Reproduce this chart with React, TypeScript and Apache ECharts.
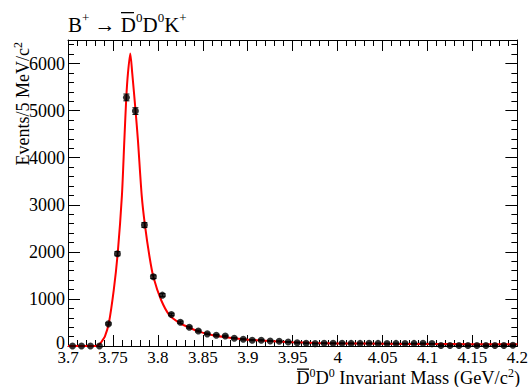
import React, { useEffect, useRef } from "react";
import * as echarts from "echarts";

// D0bar D0 invariant mass: bin centres (GeV/c^2) and event counts
const binCenters = [
  3.705, 3.715, 3.725, 3.735, 3.745, 3.755, 3.765, 3.775, 3.785, 3.795,
  3.805, 3.815, 3.825, 3.835, 3.845, 3.855, 3.865, 3.875, 3.885, 3.895,
  3.905, 3.915, 3.925, 3.935, 3.945, 3.955, 3.965, 3.975, 3.985, 3.995,
  4.005, 4.015, 4.025, 4.035, 4.045, 4.055, 4.065, 4.075, 4.085, 4.095,
  4.105, 4.115, 4.125, 4.135, 4.145, 4.155, 4.165, 4.175, 4.185, 4.195,
];
const counts = [
  0, 0, 0, 0, 470, 1960, 5280, 4990, 2570, 1470,
  1080, 670, 505, 400, 318, 258, 230, 212, 165, 142,
  124, 122, 108, 100, 85, 70, 57, 50, 57, 57,
  57, 55, 55, 57, 55, 52, 55, 52, 55, 57,
  50, 12, 10, 12, 10, 12, 10, 12, 12, 15,
];
const countErrors = [
  0, 0, 0, 0, 22, 44, 72, 70, 50, 38,
  33, 26, 23, 20, 18, 16, 15, 15, 13, 12,
  11, 11, 10, 10, 9, 8, 8, 7, 8, 8,
  8, 7, 7, 8, 7, 7, 7, 7, 7, 8,
  7, 4, 3, 4, 3, 4, 3, 4, 4, 4,
];

// Fitted line shape, sampled along the mass axis
const fitMass = [
  3.7, 3.732, 3.7354, 3.738, 3.741, 3.7454, 3.7509, 3.7553, 3.76, 3.7627,
  3.7649, 3.7667, 3.7693, 3.7715, 3.7752, 3.7778, 3.782, 3.7855, 3.7907, 3.7951,
  3.8036, 3.8128, 3.825, 3.835, 3.845, 3.86, 3.88, 3.9, 3.925, 3.95,
  3.975, 4.0, 4.05, 4.1, 4.15, 4.2,
];
const fitValue = [
  0, 0, 42, 110, 197, 482, 1189, 1968, 3200, 4374,
  5293, 5790, 6215, 5790, 4989, 4374, 3200, 2584, 1896, 1459,
  977, 658, 480, 390, 310, 235, 175, 135, 105, 82,
  65, 55, 47, 42, 38, 35,
];

const xMin = 3.7;
const xMax = 4.2;
const xStep = 0.05;
const yMin = 0;
const yMax = 6500;
const yStep = 1000;

const serif = "Liberation Serif";

const fmtX = (v: number) => String(+v.toFixed(3));
// the zero label sits a little higher so it clears the first mass label
const fmtY = (v: number) => {
  if (Math.abs(v % yStep) > 1e-6) return "";
  return v === 0 ? "{z|0}" : String(Math.round(v));
};

function makeX(position: "bottom" | "top", labels: boolean) {
  return {
    type: "value",
    position,
    min: xMin,
    max: xMax,
    interval: xStep,
    axisLine: { show: true, onZero: false, lineStyle: { color: "#000", width: 1 } },
    axisTick: { show: true, inside: true, length: 11, lineStyle: { color: "#000", width: 1 } },
    minorTick: { show: true, splitNumber: 5, length: 6, lineStyle: { color: "#000", width: 1 } },
    axisLabel: {
      show: labels,
      margin: 3,
      fontFamily: serif,
      fontSize: 17,
      color: "#000",
      formatter: fmtX,
    },
    splitLine: { show: false },
    minorSplitLine: { show: false },
  };
}

function makeY(position: "left" | "right", labels: boolean) {
  return {
    type: "value",
    position,
    min: yMin,
    max: yMax,
    interval: yStep,
    axisLine: { show: true, onZero: false, lineStyle: { color: "#000", width: 1 } },
    axisTick: { show: true, inside: true, length: 12, lineStyle: { color: "#000", width: 1 } },
    minorTick: { show: true, splitNumber: 5, length: 6, lineStyle: { color: "#000", width: 1 } },
    axisLabel: {
      show: labels,
      margin: 3,
      fontFamily: serif,
      fontSize: 18,
      color: "#000",
      formatter: fmtY,
      showMaxLabel: false,
      rich: {
        z: { fontFamily: serif, fontSize: 18, color: "#000", padding: [0, 0, 6, 0] },
      },
    },
    splitLine: { show: false },
    minorSplitLine: { show: false },
  };
}

export default function App() {
  const ref = useRef<HTMLDivElement>(null);

  useEffect(() => {
    if (!ref.current) return;
    const chart = echarts.init(ref.current, undefined, { renderer: "svg" });

    const points = binCenters.map((m, i) => [m, counts[i], countErrors[i]]);
    const fit = fitMass.map((m, i) => [m, fitValue[i]]);

    chart.setOption({
      animation: false,
      backgroundColor: "#fff",
      textStyle: { fontFamily: serif },
      grid: { left: 68, right: 11, top: 40, bottom: 41, containLabel: false },
      xAxis: [makeX("bottom", true), makeX("top", false)],
      yAxis: [makeY("left", true), makeY("right", false)],
      series: [
        {
          type: "line",
          data: fit,
          xAxisIndex: 0,
          yAxisIndex: 0,
          smooth: 0.25,
          showSymbol: false,
          clip: true,
          lineStyle: { color: "#ff0000", width: 2 },
          z: 2,
        },
        {
          type: "custom",
          data: points,
          xAxisIndex: 0,
          yAxisIndex: 0,
          encode: { x: 0, y: 1 },
          z: 3,
          renderItem: (_params: any, api: any) => {
            const x = api.value(0);
            const y = api.value(1);
            const e = api.value(2);
            if (!e) return null;
            const hi = api.coord([x, y + e]);
            const lo = api.coord([x, y - e]);
            const w = 3;
            const st = { stroke: "#000", lineWidth: 1 };
            return {
              type: "group",
              children: [
                { type: "line", shape: { x1: hi[0], y1: hi[1], x2: lo[0], y2: lo[1] }, style: st },
                { type: "line", shape: { x1: hi[0] - w, y1: hi[1], x2: hi[0] + w, y2: hi[1] }, style: st },
                { type: "line", shape: { x1: lo[0] - w, y1: lo[1], x2: lo[0] + w, y2: lo[1] }, style: st },
              ],
            };
          },
        },
        {
          type: "scatter",
          data: points.map((p) => [p[0], p[1]]),
          xAxisIndex: 0,
          yAxisIndex: 0,
          symbol: "circle",
          symbolSize: 7,
          itemStyle: { color: "#000" },
          clip: false,
          z: 4,
        },
      ],
      graphic: [
        {
          type: "text",
          left: 68,
          top: 11,
          style: {
            text: "{n|B}{p|+}{n| → }{n|D}{p|0}{n|D}{p|0}{n|K}{p|+}",
            rich: {
              n: { fontFamily: serif, fontSize: 21, fill: "#000", lineHeight: 24, verticalAlign: "bottom" },
              p: { fontFamily: serif, fontSize: 13, fill: "#000", lineHeight: 24, verticalAlign: "top", padding: [0, 0, 9, 0] },
            },
          },
        },
        {
          type: "rect",
          shape: { x: 121, y: 12, width: 13, height: 1.3 },
          style: { fill: "#000" },
        },
        {
          type: "text",
          x: 22,
          y: 42,
          rotation: Math.PI / 2,
          style: {
            text: "{n|Events/5 MeV/c}{p|2}",
            align: "right",
            verticalAlign: "middle",
            rich: {
              n: { fontFamily: serif, fontSize: 18, fill: "#000", lineHeight: 20, verticalAlign: "bottom" },
              p: { fontFamily: serif, fontSize: 12, fill: "#000", lineHeight: 20, verticalAlign: "top", padding: [0, 0, 7, 0] },
            },
          },
        },
        {
          type: "text",
          x: 520,
          y: 377,
          style: {
            text: "{n|D}{p|0}{n|D}{p|0}{n| Invariant Mass (GeV/c}{p|2}{n|)}",
            align: "right",
            verticalAlign: "middle",
            rich: {
              n: { fontFamily: serif, fontSize: 18.4, fill: "#000", lineHeight: 20, verticalAlign: "bottom" },
              p: { fontFamily: serif, fontSize: 12, fill: "#000", lineHeight: 20, verticalAlign: "top", padding: [0, 0, 7, 0] },
            },
          },
        },
        {
          type: "rect",
          shape: { x: 297, y: 368.5, width: 12, height: 1.3 },
          style: { fill: "#000" },
        },
      ],
    });

    return () => chart.dispose();
  }, []);

  return (
    <div
      ref={ref}
      style={{ position: "absolute", left: 0, top: 0, width: 531, height: 387 }}
    />
  );
}
